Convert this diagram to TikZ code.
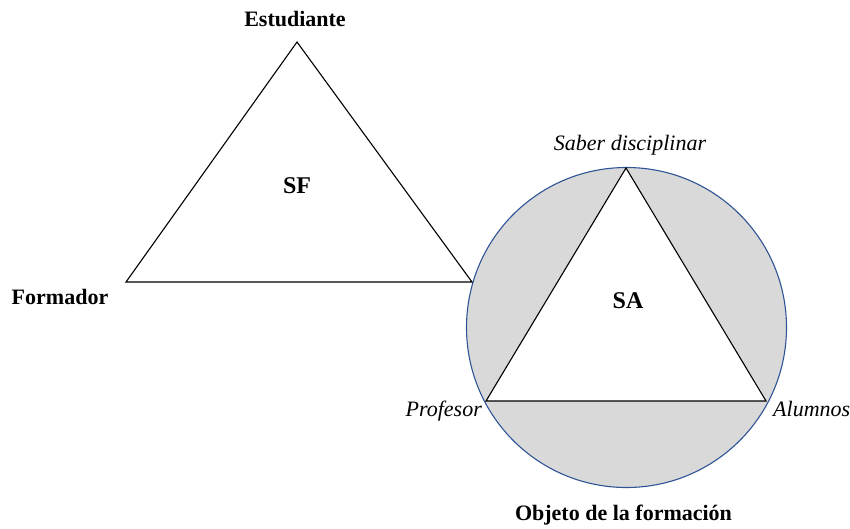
\documentclass[tikz,border=0pt]{standalone}
\usepackage{fontspec}
\setmainfont{Liberation Serif}
\definecolor{circblue}{RGB}{47,84,150}
\definecolor{greyfill}{RGB}{217,217,217}
\tikzset{
  lbl/.style={inner sep=0pt, font=\fontsize{22}{24}\selectfont\bfseries, text height=0.7em, text depth=0pt},
  ilbl/.style={inner sep=0pt, font=\fontsize{22}{24}\selectfont\itshape, text height=0.7em, text depth=0pt},
  big/.style={inner sep=0pt, font=\fontsize{24}{26}\selectfont\bfseries, text height=0.7em, text depth=0pt},
  tri/.style={draw=black, line width=1.1pt, line join=miter},
}
\begin{document}
\begin{tikzpicture}[x=1pt,y=-1pt]
\useasboundingbox (0,0) rectangle (850,529);
% circle with shaded segments
\coordinate (C) at (626.5,327.5);
\fill[greyfill] (C) circle (160);
\draw[circblue, line width=1.1pt] (C) circle (160);
% SA triangle
\coordinate (sa1) at (626,168);
\coordinate (sa2) at (486,401);
\coordinate (sa3) at (766,401);
\filldraw[tri, fill=white] (sa1) -- (sa2) -- (sa3) -- cycle;
% SF triangle
\coordinate (sf1) at (297,42);
\coordinate (sf2) at (126,282);
\coordinate (sf3) at (472,282);
\draw[tri] (sf1) -- (sf2) -- (sf3) -- cycle;
% labels
\node[lbl] (est) at (295,23) {Estudiante};
\node[big] (sf) at (297,190) {SF};
\node[lbl] (form) at (60,301) {Formador};
\node[ilbl] (saber) at (630,147) {Saber disciplinar};
\node[big] (sa) at (628,305) {SA};
\node[ilbl, anchor=east] (prof) at (482,413) {Profesor};
\node[ilbl, anchor=west] (alum) at (773,413) {Alumnos};
\node[lbl] (obj) at (623.5,517) {Objeto de la formación};
\end{tikzpicture}
\end{document}
